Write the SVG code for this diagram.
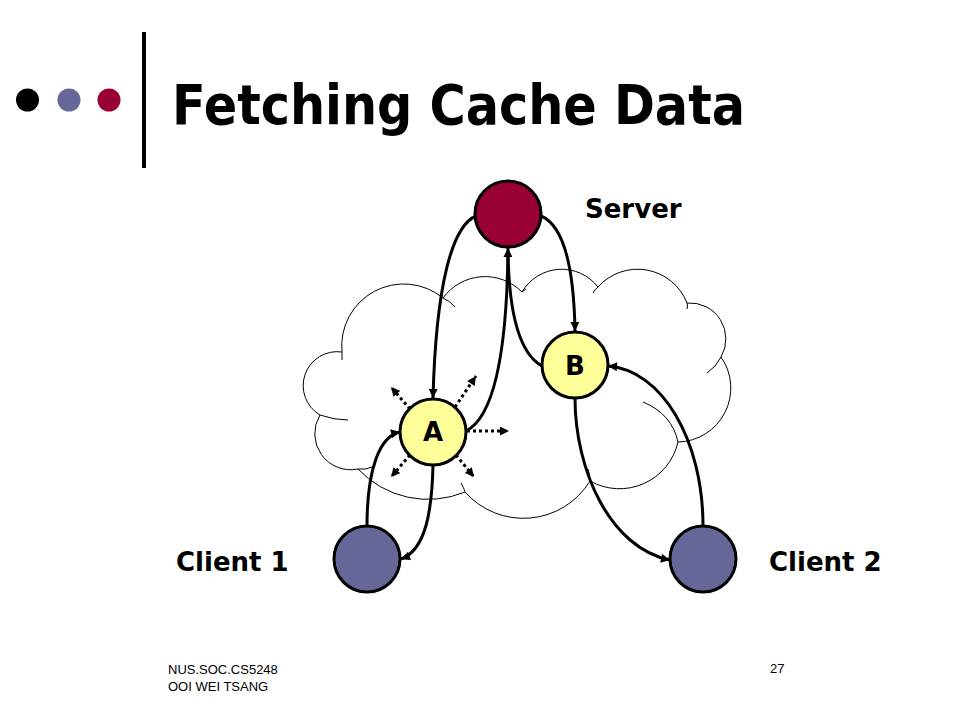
<svg xmlns="http://www.w3.org/2000/svg" width="960" height="720" viewBox="0 0 960 720">
<style>
.bold{font-family:"DejaVu Sans","Verdana",sans-serif;font-weight:bold;fill:#000}
.foot{font-family:"Liberation Sans",Arial,sans-serif;font-size:13px;fill:#000}
.cloud{fill:#fff;stroke:#000;stroke-width:1}
.hook{fill:none;stroke:#000;stroke-width:1}
.conn{fill:none;stroke:#000;stroke-width:3}
.dot{fill:none;stroke:#000;stroke-width:3;stroke-dasharray:3 3}
.node{stroke:#000;stroke-width:3}
</style>
<defs>
<marker id="ah" viewBox="0 0 10 10" refX="10" refY="5" markerWidth="11" markerHeight="9" markerUnits="userSpaceOnUse" orient="auto"><path d="M0,0 L10,5 L0,10 z" fill="#000"/></marker>
<marker id="ahd" viewBox="0 0 10 10" refX="10" refY="5" markerWidth="10" markerHeight="9" markerUnits="userSpaceOnUse" orient="auto"><path d="M0,0 L10,5 L0,10 z" fill="#000"/></marker>
</defs>
<rect width="960" height="720" fill="#fff"/>
<g id="header">
<circle cx="27.5" cy="100" r="11.5" fill="#000"/>
<circle cx="69" cy="100" r="11.5" fill="#666699"/>
<circle cx="109" cy="100" r="11.5" fill="#990033"/>
<rect x="142" y="32" width="4" height="136" fill="#000"/>
<text class="bold" x="172" y="124" font-size="56" textLength="573" lengthAdjust="spacingAndGlyphs">Fetching Cache Data</text>
</g>
<g id="cloud">
<path class="cloud" d="M342,352 A62,62 0 0 1 443,298 A52,52 0 0 1 522,292 A46,46 0 0 1 598,287 A53,53 0 0 1 687,303 A36,36 0 0 1 721,357 A54,54 0 0 1 678,442 A60,60 0 0 1 590,481 A78,78 0 0 1 465,492 A96,96 0 0 1 358,469 A36,36 0 0 1 320,415 A34,34 0 0 1 342,352 Z"/>
<path class="hook" d="M443,298 Q450,301 455,307 M522,292 L526,289 M593,293 Q595,289 598,287 M687,303 Q688,306 687,309 M721,357 Q716,367 707,373 M643,402 Q672,414 678,442 M590,481 Q590,475 588,469 M461,483 Q464,488 465,492 M358,469 Q366,470 372,467 M320,415 Q334,420 348,420 M342,352 L342,360"/>
</g>
<g id="connectors">
<path class="conn" d="M476,216 C452,226 436,285 433,398" marker-end="url(#ah)"/>
<path class="conn" d="M466,431 C492,418 507,360 508,248" marker-end="url(#ah)"/>
<path class="conn" d="M542,366 C522,355 509,320 508,252"/>
<path class="conn" d="M541,216 C565,226 574,272 575,331" marker-end="url(#ah)"/>
<path class="conn" d="M367,526 C367,468 380,436 400,432" marker-end="url(#ah)"/>
<path class="conn" d="M433,465 C432,510 426,550 401,559" marker-end="url(#ah)"/>
<path class="conn" d="M575,398 C575,470 610,548 670,560" marker-end="url(#ah)"/>
<path class="conn" d="M703,526 C703,440 662,370 608,366" marker-end="url(#ah)"/>
<path class="dot" d="M410,409 L391,387" marker-end="url(#ahd)"/>
<path class="dot" d="M455,407 L476,376" marker-end="url(#ahd)"/>
<path class="dot" d="M467,431 L509,431" marker-end="url(#ahd)"/>
<path class="dot" d="M410,455 L391,477" marker-end="url(#ahd)"/>
<path class="dot" d="M456,455 L474,477" marker-end="url(#ahd)"/>
</g>
<g id="server">
<circle class="node" cx="508" cy="214" r="33" fill="#990033"/>
<text class="bold" x="585" y="218" font-size="26">Server</text>
</g>
<g id="nodeB">
<circle class="node" cx="575" cy="365" r="33" fill="#FFFF99"/>
<text class="bold" x="575" y="375" font-size="26" text-anchor="middle">B</text>
</g>
<g id="nodeA">
<circle class="node" cx="433" cy="432" r="33" fill="#FFFF99"/>
<text class="bold" x="433" y="441" font-size="26" text-anchor="middle">A</text>
</g>
<g id="client1">
<circle class="node" cx="367" cy="559" r="33" fill="#666699"/>
<text class="bold" x="176" y="571" font-size="26">Client 1</text>
</g>
<g id="client2">
<circle class="node" cx="703" cy="559" r="33" fill="#666699"/>
<text class="bold" x="769" y="571" font-size="26">Client 2</text>
</g>
<g id="footer">
<text class="foot" x="168" y="674">NUS.SOC.CS5248</text>
<text class="foot" x="168" y="691">OOI WEI TSANG</text>
<text class="foot" x="770" y="673">27</text>
</g>
</svg>
